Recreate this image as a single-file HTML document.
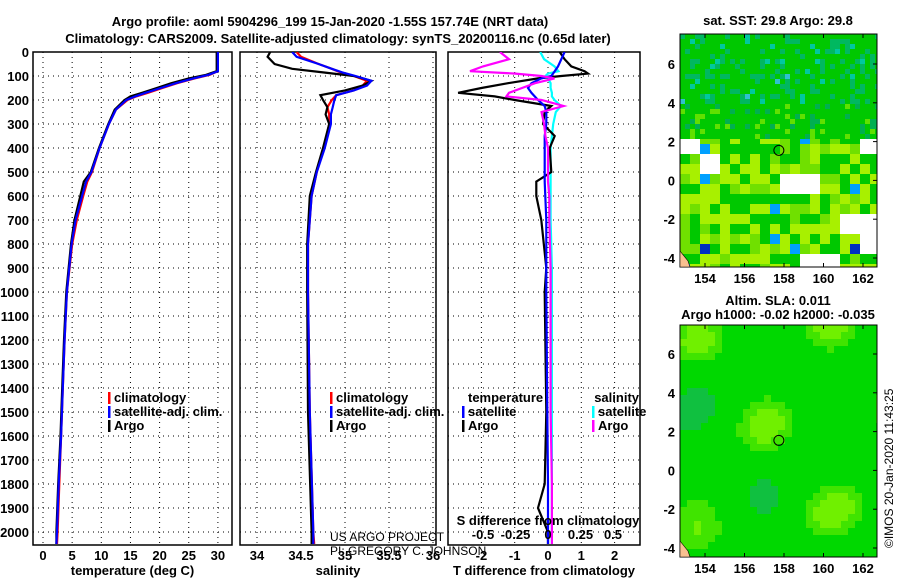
<!DOCTYPE html>
<html><head><meta charset="utf-8">
<style>
body{margin:0;background:#fff;}
svg{display:block;font-family:"Liberation Sans",sans-serif;}
.t{font-weight:bold;font-size:13px;fill:#000;}
</style></head>
<body>
<svg id="c" width="900" height="580" viewBox="0 0 900 580">
<text class="t" x="330" y="26" text-anchor="middle" font-size="14">Argo profile: aoml 5904296_199 15-Jan-2020 -1.55S 157.74E (NRT data)</text>
<text class="t" x="338" y="43" text-anchor="middle" font-size="14">Climatology: CARS2009. Satellite-adjusted climatology: synTS_20200116.nc (0.65d later)</text>
<g id="g"></g>
</svg>
<script>
// ---- data ----
const depthTicks=[0,100,200,300,400,500,600,700,800,900,1000,1100,1200,1300,1400,1500,1600,1700,1800,1900,2000];
const tempTicks=[0,5,10,15,20,25,30];
const salTicks=[34,34.5,35,35.5,36];
const tdiffTicks=[-2,-1,0,1,2];
const sdiffTicks=[-0.5,-0.25,0,0.25,0.5];
const tempDepth=[0,80,95,110,130,150,170,185,200,240,300,400,500,540,600,700,800,1000,1200,1400,1600,1800,2000,2050];
const tempArgo=[29.8,29.8,28,25,22,19.5,17,15,14,12.3,11.2,9.6,8.2,7,6.4,5.4,4.8,4.0,3.6,3.3,3.0,2.6,2.3,2.3];
const tempClim=[30,30,28.6,26,23,20.5,18,16,14.5,12.5,11.3,9.7,8.4,7.6,6.9,5.8,5.0,4.1,3.7,3.4,3.1,2.8,2.5,2.4];
const tempSat=[30,30,28.4,25.8,22.8,20.2,17.6,15.8,14.3,12.5,11.3,9.7,8.3,7.4,6.7,5.6,4.9,4.1,3.7,3.4,3.1,2.7,2.4,2.3];
const salDepth=[0,20,50,70,85,100,120,140,160,180,200,230,260,300,400,500,600,800,1000,1500,2000,2050];
const salArgo=[34.15,34.12,34.2,34.4,34.75,35.1,35.3,35.2,35.0,34.72,34.75,34.8,34.78,34.82,34.75,34.67,34.6,34.57,34.57,34.58,34.62,34.62];
const salClim=[34.45,34.5,34.7,34.85,34.95,35.1,35.25,35.2,35.1,34.9,34.85,34.8,34.82,34.82,34.76,34.68,34.62,34.58,34.58,34.6,34.64,34.65];
const salSat=[34.4,34.45,34.7,34.85,34.97,35.12,35.3,35.25,35.1,34.9,34.88,34.86,34.84,34.84,34.77,34.68,34.62,34.58,34.58,34.6,34.64,34.64];
const dDepth=[0,30,60,80,90,100,110,130,150,170,185,200,225,250,300,350,400,500,540,600,700,900,1000,1500,1800,1900,2000,2050];
const tdArgo=[0.35,0.5,0.7,1.1,1.2,0.4,-0.3,-1.2,-2.0,-2.7,-1.6,-1.0,0.1,-0.1,-0.15,0.2,0.05,0.1,-0.35,-0.35,-0.2,-0.05,-0.1,-0.05,-0.1,-0.3,0,0];
const tdSat=[0.5,0.4,0.3,0.2,0.15,0.1,-0.2,-0.5,-0.6,-0.5,-0.4,-0.3,-0.1,-0.05,-0.05,-0.1,-0.1,-0.1,-0.1,-0.08,-0.05,-0.05,-0.05,-0.02,0,0,0,0];
const sdArgo=[-0.37,-0.3,-0.5,-0.6,-0.25,-0.05,0.05,-0.1,-0.2,-0.3,-0.32,-0.05,0.12,-0.05,-0.03,-0.02,0,0,0,0.01,0.01,0.02,0.02,0.02,0.03,0.03,0.03,0.03];
const sdSat=[-0.06,-0.03,0.05,0.08,0.0,-0.02,0.0,0.02,0.02,0.03,0.03,0.05,0.1,0.06,0.04,0.03,0.02,0.02,0.02,0.02,0.02,0.03,0.03,0.03,0.03,0.03,0.03,0.03];
const lonTicks=[154,156,158,160,162];
const latTicks=[-4,-2,0,2,4,6];

const NS="http://www.w3.org/2000/svg";
const G=document.getElementById('g');
function el(t,a,p){const e=document.createElementNS(NS,t);for(const k in a)e.setAttribute(k,a[k]);(p||G).appendChild(e);return e;}
const Y0=52,Y1=545;
const yD=d=>Y0+d*0.24;
function panel(name,x0,x1,ticks,xf,label,tickFmt,drawDepthLabels){
  const g=el('g',{});
  
  
  depthTicks.forEach(d=>{const l=el('line',{x1:x0,x2:x1,y1:yD(d),y2:yD(d),stroke:'#000','stroke-dasharray':'1,4'},g);
    
    if(drawDepthLabels){const t=el('text',{x:x0-4,y:yD(d)+5,'text-anchor':'end',class:'t'},g);t.textContent=d;
      }});
  ticks.forEach(v=>{const x=xf(v);const l=el('line',{x1:x,x2:x,y1:Y0,y2:Y1,stroke:'#000','stroke-dasharray':'1,4'},g);
    
    if(tickFmt){const t=el('text',{x:x,y:Y1+15,'text-anchor':'middle',class:'t'},g);t.textContent=tickFmt(v);
      }});
  const r=el('rect',{x:x0,y:Y0,width:x1-x0,height:Y1-Y0,fill:'none',stroke:'#000','stroke-width':1.5},g);
  
  const t=el('text',{x:(x0+x1)/2,y:575,'text-anchor':'middle',class:'t'},g);t.textContent=label;
  
  return g;
}
function line(name,depths,vals,xf,color,x0,x1){
  const cp='clip-'+name;
  const c=el('clipPath',{id:cp});el('rect',{x:x0,y:Y0,width:x1-x0,height:Y1-Y0},c);
  const pts=depths.map((d,i)=>xf(vals[i]).toFixed(1)+','+yD(d).toFixed(1)).join(' ');
  const p=el('polyline',{points:pts,fill:'none',stroke:color,'stroke-width':2.2,'clip-path':'url(#'+cp+')'});
  
}
function legend(x,y,items){items.forEach((it,i)=>{
  const r=el('rect',{x:x,y:y+i*14-10,width:2.5,height:12,fill:it[1]});
  
  const t=el('text',{x:x+6,y:y+i*14,class:'t'});t.textContent=it[0];
  });}

// panel 1
const xT=v=>43+v*5.83;
panel('temperature',33,232,tempTicks,xT,'temperature (deg C)',v=>v,true);
line('temp-climatology',tempDepth,tempClim,xT,'#f00',33,232);
line('temp-argo',tempDepth,tempArgo,xT,'#000',33,232);
line('temp-satellite',tempDepth,tempSat,xT,'#00f',33,232);
legend(108,402,[['climatology','#f00'],['satellite-adj. clim.','#00f'],['Argo','#000']]);
// panel 2
const xS=v=>257+(v-34)*88;
panel('salinity',240,436,salTicks,xS,'salinity',v=>v,false);
line('sal-climatology',salDepth,salClim,xS,'#f00',240,436);
line('sal-argo',salDepth,salArgo,xS,'#000',240,436);
line('sal-satellite',salDepth,salSat,xS,'#00f',240,436);
legend(330,402,[['climatology','#f00'],['satellite-adj. clim.','#00f'],['Argo','#000']]);
// panel 3
const xTd=v=>548+v*33.3;
const xSd=v=>548+v*130;
panel('t-difference',448,640,tdiffTicks,xTd,'T difference from climatology',v=>v,false);
line('sdiff-satellite',dDepth,sdSat,xSd,'#0ff',448,640);
line('tdiff-argo',dDepth,tdArgo,xTd,'#000',448,640);
line('tdiff-satellite',dDepth,tdSat,xTd,'#00f',448,640);
line('sdiff-argo',dDepth,sdArgo,xSd,'#f0f',448,640);
sdiffTicks.forEach(v=>{const t=el('text',{x:xSd(v),y:539,'text-anchor':'middle',class:'t'});t.textContent=v;
  });
{const t=el('text',{x:548,y:525,'text-anchor':'middle',class:'t'});t.textContent='S difference from climatology';
 }
{const t=el('text',{x:468,y:402,class:'t'});t.textContent='temperature';}
{const t=el('text',{x:639,y:402,'text-anchor':'end',class:'t'});t.textContent='salinity';}
legend(462,416,[['satellite','#00f'],['Argo','#000']]);
legend(592,416,[['satellite','#0ff'],['Argo','#f0f']]);
{const t=el('text',{x:330,y:541,'font-size':12,fill:'#000'});t.textContent='US ARGO PROJECT';
 const u=el('text',{x:330,y:555,'font-size':12,fill:'#000'});u.textContent='PI: GREGORY C. JOHNSON';}

// maps
function hash(i,j,s){let h=(i*374761393+j*668265263+s*1442695041)|0;h=(h^(h>>>13))*1274126177|0;return ((h^(h>>>16))>>>0)/4294967296;}
function map(name,x0,y0,w,h,yLat6,yLatm4,title1,title2,sst){
  const g=el('g',{});
  el('rect',{x:x0,y:y0,width:w,height:h,fill:sst?'#00c800':'#00d800'},g);
  const cs=sst?5:7;
  for(let i=0;i*cs<w;i++)for(let j=0;j*cs<h;j++){
    const r=hash(i,j,sst?1:2);const fy=j*cs/h, fx=i*cs/w;let c=null;
    if(sst){
      if(fy<0.3){c=r<0.2?'#00b860':r<0.26?'#00c8a0':r<0.28?'#30c0d0':null;}
      else if(fy<0.45){c=r<0.15?'#00b050':r<0.25?'#60e000':null;}
      else{ if(hash(i>>2,j>>2,5)<(fx>0.5?0.28:0.14)) c='#fff';
        else { const r2=hash(i>>1,j>>1,7); c=r2<0.35?'#a8f000':r2<0.55?'#70e000':r2<0.58?'#00a0ff':r2<0.6&&fy>0.6?'#0030c0':null;}}
    } else {
      const v=Math.sin(fx*9+1)*Math.cos(fy*8)+0.3*Math.sin(fy*15+fx*3);
      c=v>0.95?'#70f000':v>0.6?'#40e400':v<-0.8?'#10c040':null;
    }
    if(c){el('rect',{x:x0+i*cs,y:y0+j*cs,width:Math.min(cs,w-i*cs),height:Math.min(cs,h-j*cs),fill:c},g);}
  }
  el('rect',{x:x0,y:y0,width:w,height:h,fill:'none',stroke:'#000','stroke-width':1},g);
  const lx=v=>705+(v-154)*19.75, ly=v=>yLat6+(6-v)*(yLatm4-yLat6)/10;
  lonTicks.forEach(v=>{el('line',{x1:lx(v),x2:lx(v),y1:y0,y2:y0+4,stroke:'#000'},g);el('line',{x1:lx(v),x2:lx(v),y1:y0+h,y2:y0+h-4,stroke:'#000'},g);
    const t=el('text',{x:lx(v),y:y0+h+16,'text-anchor':'middle',class:'t'},g);t.textContent=v;});
  latTicks.forEach(v=>{el('line',{x1:x0+w,x2:x0+w-4,y1:ly(v),y2:ly(v),stroke:'#000'},g);
    const t=el('text',{x:x0-5,y:ly(v)+5,'text-anchor':'end',class:'t'},g);t.textContent=v;});
  const m=el('circle',{cx:lx(157.74),cy:ly(1.55),r:5,fill:'none',stroke:'#000','stroke-width':1},g);
  
  el('path',{d:`M${x0} ${y0+h-16} L${x0+8} ${y0+h-6} L${x0+10} ${y0+h} L${x0} ${y0+h} Z`,fill:'#f8c090',stroke:'#000','stroke-width':0.6},g);
  const t1=el('text',{x:778,y:y0-(title2?20:9),'text-anchor':'middle',class:'t','font-size':12},g);t1.textContent=title1;
  
  if(title2){const t2=el('text',{x:778,y:y0-6,'text-anchor':'middle',class:'t','font-size':12},g);t2.textContent=title2;
    }
}
map('sst-map',680,34,197,233,64,258,'sat. SST: 29.8 Argo: 29.8',null,true);
map('sla-map',680,325,197,232,354,548,'Altim. SLA: 0.011','Argo h1000: -0.02 h2000: -0.035',false);
{const t=el('text',{x:0,y:0,'font-size':12,fill:'#000',transform:'translate(893,548) rotate(-90)'});t.textContent='©IMOS 20-Jan-2020 11:43:25';
 }
</script>
</body></html>
